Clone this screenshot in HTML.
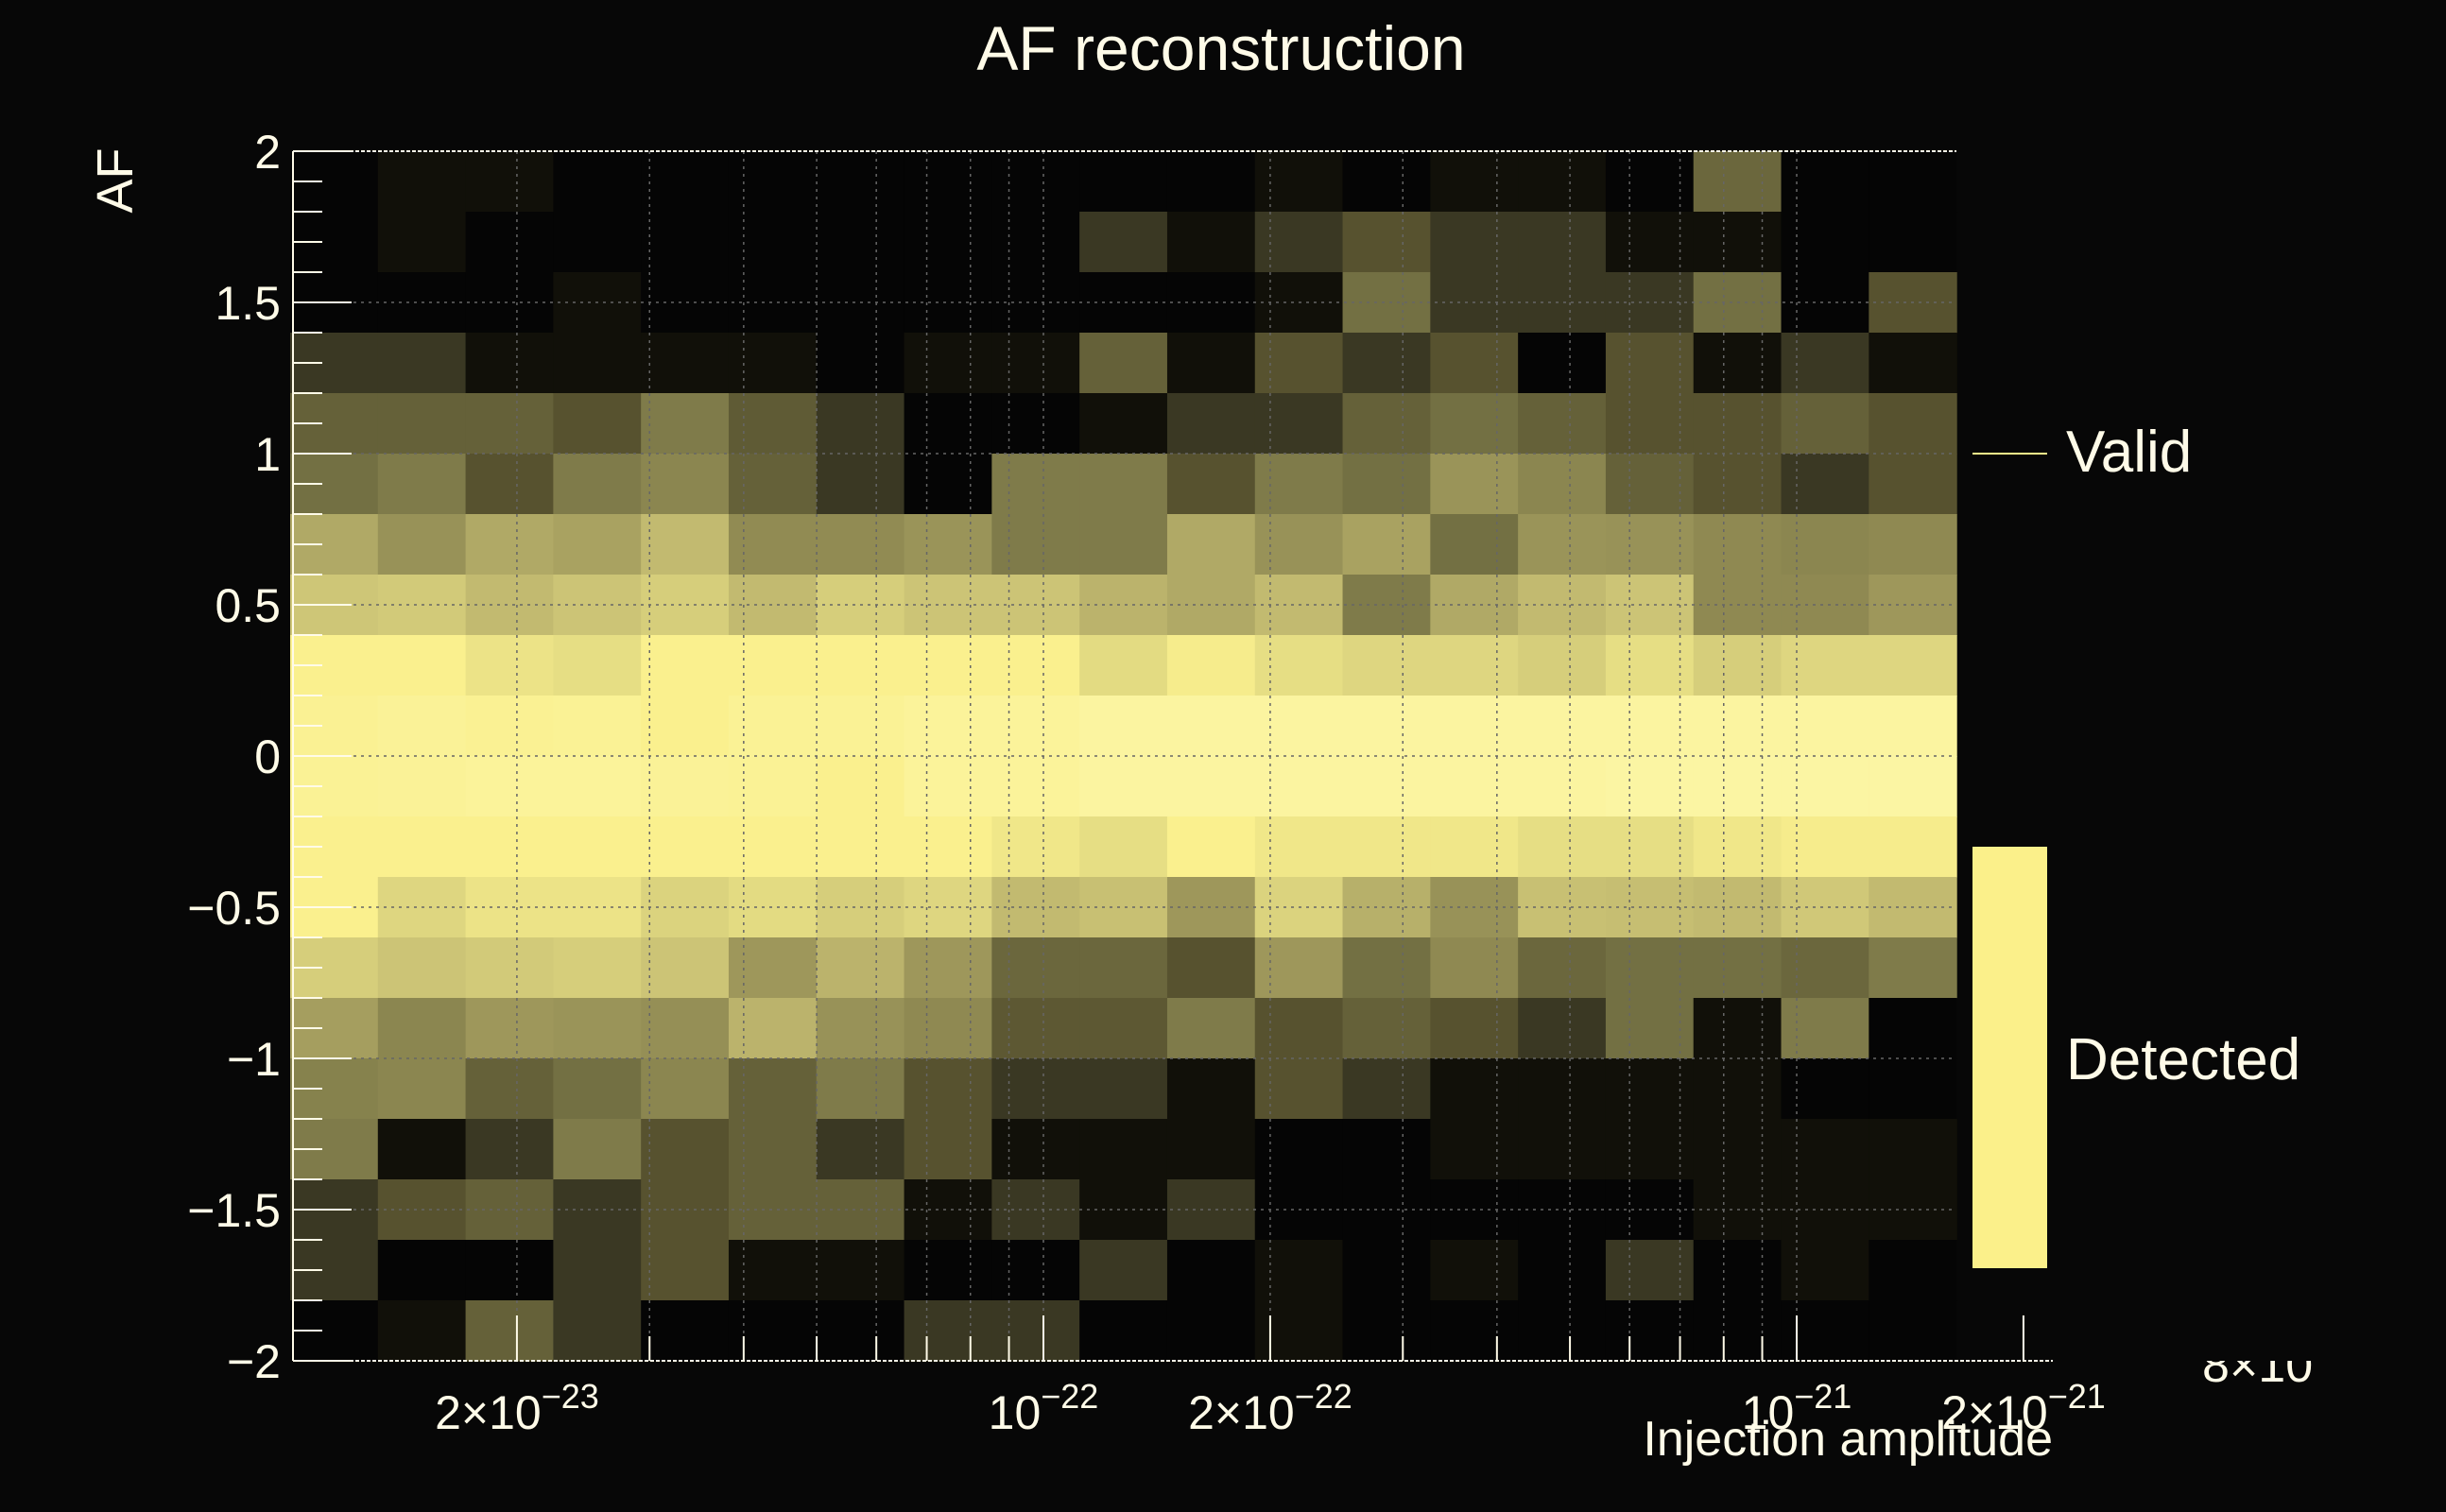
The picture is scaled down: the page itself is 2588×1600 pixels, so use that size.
<!DOCTYPE html>
<html><head><meta charset="utf-8"><style>
html,body{margin:0;padding:0;background:#070707;}
svg{display:block;font-family:"Liberation Sans",sans-serif;}
</style></head><body>
<svg id="chart" width="2588" height="1600" viewBox="0 0 2588 1600" xmlns="http://www.w3.org/2000/svg">
<rect width="2588" height="1600" fill="#070707"/>
<g id="cells"></g>
<g id="grid"></g>
<g id="axes"></g>
<text x="1292" y="74" font-size="66" fill="#fffbe8" text-anchor="middle">AF reconstruction</text>
<text transform="translate(140,191) rotate(-90)" font-size="54" fill="#fffbe8" text-anchor="middle">AF</text>
<text x="2172" y="1540" font-size="52" fill="#fffbe8" text-anchor="end">Injection amplitude</text>
<svg x="2320" y="1440" width="140" height="40" overflow="hidden"><text x="10" y="22" font-size="52" fill="#fffbe8">8×10</text></svg>
<g>
<line x1="2087" y1="480" x2="2166" y2="480" stroke="#fbf08a" stroke-width="2"/>
<text x="2186" y="499" font-size="62" fill="#fffbe8">Valid</text>
<rect x="2087" y="896" width="79" height="446" fill="#fbf08a"/>
<text x="2186" y="1142" font-size="62" fill="#fffbe8">Detected</text>
</g>
</svg>
<script>
const yBinEdges = [2,1.8,1.6,1.4,1.2,1,0.8,0.6,0.4,0.2,0,-0.2,-0.4,-0.6,-0.8,-1,-1.2,-1.4,-1.6,-1.8,-2];
const xMin = 1e-23, xMaxHist = 1.63e-21, nCols = 19;
const yTicks = [2,1.5,1,0.5,0,-0.5,-1,-1.5,-2];
const yTickLabels = ["2","1.5","1","0.5","0","\u22120.5","\u22121","\u22121.5","\u22122"];
const xTicks = [2e-23,1e-22,2e-22,1e-21,2e-21];
const xTickMant = ["2×","","2×","","2×"];
const xTickExp = ["\u221223","\u221222","\u221222","\u221221","\u221221"];
const counts = [
[0,0.5,0.5,0,0,0,0,0,0,0,0,0.5,0,0.5,0.5,0,3.7,0,0],
[0,0.5,0,0,0,0,0,0,0,2,0.5,2,3,2,2,0.5,0.5,0,0],
[0,0,0,0.5,0,0,0,0,0,0,0,0.5,4,2,2,2,4,0,3],
[2,2,0.5,0.5,0.5,0.5,0,0.5,0.5,3.5,0.5,3,2,3,0,3,0.5,2,0.5],
[3.5,3.5,3.5,3,4.5,3.3,2,0,0,0.5,2,2,3.5,4,3.5,3,3,3.5,3],
[4,4.5,3,4.5,5,3.5,2,0,4.5,4.5,3,4.5,4,5.8,5,3.5,3,2,3],
[6.5,5.7,6.5,6.3,7,5.3,5.3,5.8,4.5,4.5,6.5,5.7,6.3,4,5.8,5.7,5.2,5,5.2],
[7.6,7.8,7,7.5,8,7,8,7.5,7.5,6.8,6.5,7,4.5,6.5,7,7.5,5.2,5.2,6],
[10,10,9.3,9,10,10,10,10,10,8.8,9.8,9,8.5,8.5,8,9,8,8.5,8.5],
[10.2,10.4,10.2,10.3,10,10.3,10.3,10.5,10.5,10.8,10.8,10.8,10.8,10.8,10.8,10.8,10.8,10.8,10.8],
[10.3,10.4,10.5,10.5,10.4,10.3,10,10.5,10.5,10.8,10.8,10.8,10.8,10.8,10.8,10.9,10.9,10.9,10.9],
[10,10,10,10,10,10,10,10,9.5,9,10,9.5,9.5,9.5,9,9,9.5,9.8,9.8],
[10,8.5,9.3,9.3,8.3,8.8,8,8.5,7,7.3,6,8.3,6.7,5.7,7.3,7.2,7,7.7,7],
[8,7.5,7.8,8,7.5,6,6.8,6,3.7,3.7,3,6,4,5.2,3.7,4,4,3.7,4.5],
[6.2,5,6,5.8,5.5,6.8,5.7,5.2,3.2,3.2,4.5,3,3.5,3,2,4,0.5,4.5,0],
[4.8,5,3.5,4,5,3.5,4.5,3,2,2,0.5,3,2,0.5,0.5,0.5,0.5,0,0],
[4.5,0.5,2,4.5,3,3.5,2,3,0.5,0.5,0.5,0,0,0.5,0.5,0.5,0.5,0.5,0.5],
[2,3,3.5,2,3,3.5,3.5,0.5,2,0.5,2,0,0,0,0,0,0.5,0.5,0.5],
[2,0,0,2,3,0.5,0.5,0,0,2,0,0.5,0,0.5,0,2,0,0.5,0],
[0,0.5,3.5,2,0,0,0,2,2,0,0,0.5,0,0,0,0,0,0,0]
];
const NS="http://www.w3.org/2000/svg";
const X0=310, Y0=160, Y1=1440, XR=2172, XH=2070;
const pxPerDecade=797, xRef=1104;
function xs(v){return xRef+(Math.log10(v)+22)*pxPerDecade;}
function ys(v){return Y0+(2-v)/4*(Y1-Y0);}
const stops=[[0,[5,5,5]],[0.5,[17,16,9]],[2,[58,56,35]],[3,[87,82,47]],[4,[115,112,67]],[5,[139,134,80]],[6,[158,151,91]],[7,[194,186,112]],[8,[214,206,123]],[9,[230,222,132]],[10,[250,240,142]],[11,[251,245,165]]];
function color(v){
  for(let i=1;i<stops.length;i++){
    if(v<=stops[i][0]){const a=stops[i-1],b=stops[i];const t=(v-a[0])/(b[0]-a[0]);
      return "rgb("+a[1].map((c,k)=>Math.round(c+(b[1][k]-c)*t)).join(",")+")";}
  }
  return "rgb(251,245,165)";
}
function mk(tag,attrs,parent){const e=document.createElementNS(NS,tag);for(const k in attrs)e.setAttribute(k,attrs[k]);parent.appendChild(e);return e;}
const cells=document.getElementById('cells');
const lmin=Math.log10(xMin), lmax=Math.log10(xMaxHist);
for(let r=0;r<counts.length;r++){
  for(let c=0;c<nCols;c++){
    const xa=xs(Math.pow(10,lmin+(lmax-lmin)*c/nCols)), xb=xs(Math.pow(10,lmin+(lmax-lmin)*(c+1)/nCols));
    const ya=ys(yBinEdges[r]), yb=ys(yBinEdges[r+1]);
    const el=mk('rect',{x:xa,y:ya,width:xb-xa+0.6,height:yb-ya+0.6,fill:color(counts[r][c])},cells);
    
    
  }
}
const grid=document.getElementById('grid');
for(let d=-23;d<=-21;d++){for(let m=1;m<=9;m++){const v=m*Math.pow(10,d);const x=xs(v);if(x<=X0+2||x>=XR)continue;
  if(x<XH){
    const g=mk('line',{x1:x,y1:Y0,x2:x,y2:Y1,stroke:"#666",'stroke-width':1.5,'stroke-dasharray':"3,5"},grid);
    
    
  }
  const t=mk('line',{x1:x,y1:Y1,x2:x,y2:Y1-(m===1||m===2?48:26),stroke:"#fffbe8",'stroke-width':2},grid);
  
  
}}
yTicks.forEach(v=>{const y=ys(v);if(v===2||v===-2)return;
  const g=mk('line',{x1:X0,y1:y,x2:XH,y2:y,stroke:"#666",'stroke-width':1.5,'stroke-dasharray':"3,5"},grid);
  
  
});
const axes=document.getElementById('axes');
let a=mk('line',{x1:X0,y1:Y0,x2:X0,y2:Y1,stroke:"#fffbe8",'stroke-width':2},axes);


a=mk('line',{x1:X0,y1:Y1,x2:XR,y2:Y1,stroke:"#fffbe8",'stroke-width':2,'stroke-dasharray':"4,2"},axes);


a=mk('line',{x1:X0,y1:Y0,x2:XH,y2:Y0,stroke:"#fffbe8",'stroke-width':2,'stroke-dasharray':"4,2"},axes);


for(let i=0;i<=40;i++){const v=2-i*0.1;const y=ys(v);const major=(i%5===0);
  const t=mk('line',{x1:X0,y1:y,x2:X0+(major?62:31),y2:y,stroke:"#fffbe8",'stroke-width':2},axes);
  
  
}
yTicks.forEach((v,i)=>{const t=mk('text',{x:297,y:ys(v)+18,'font-size':50,fill:"#fffbe8",'text-anchor':'end'},axes);t.textContent=yTickLabels[i];
  
  
});
xTicks.forEach((v,i)=>{const t=mk('text',{x:xs(v),y:1512,'font-size':50,fill:"#fffbe8",'text-anchor':'middle'},axes);
  t.textContent=xTickMant[i]+"10";
  const s=mk('tspan',{dy:-22,'font-size':36},t);s.textContent=xTickExp[i];
  
  
});
</script>
</body></html>
